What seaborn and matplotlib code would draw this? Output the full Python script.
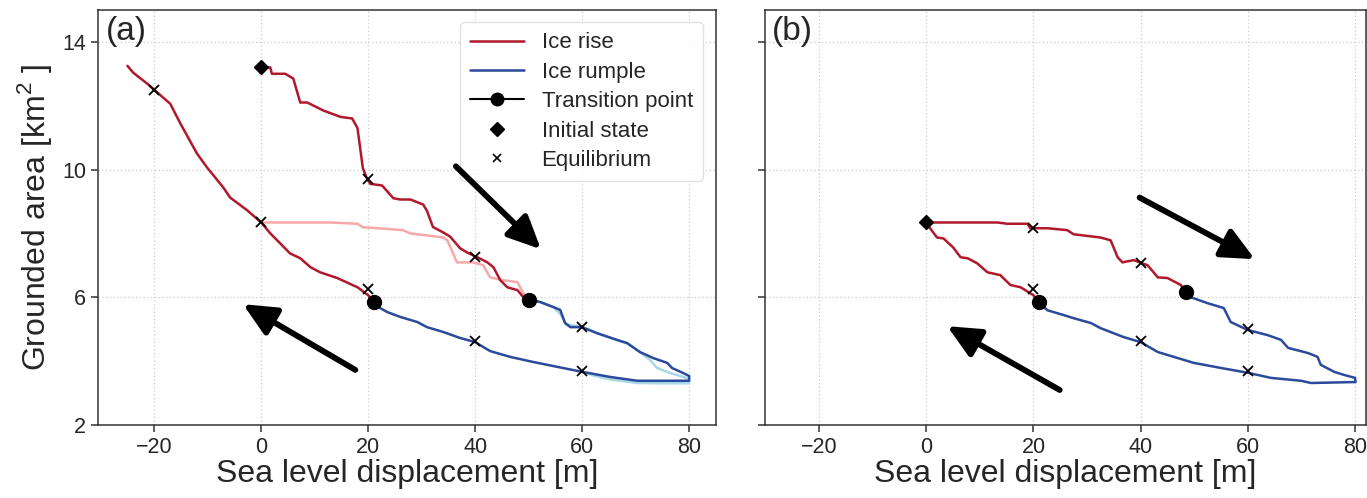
import numpy as np
import pandas as pd
import matplotlib
matplotlib.use("Agg")
import matplotlib.pyplot as plt
import seaborn as sns
from matplotlib.lines import Line2D

# ---------------- data: panel (a) ----------------
# ice rise, increasing sea level (from initial state)
a_rise_up_x = [0, 1.7, 2.0, 4.5, 6.0, 7.3, 8.6, 11.6, 14.8, 17.0, 18.0, 19.0, 19.8, 20.4, 22.6, 24.7, 26.0,
               27.9, 30.3, 31.0, 32.1, 34.0, 35.3, 37.2, 38.5, 40.4, 42.2, 43.4, 44.7, 46.0, 47.9, 49.0, 50.0]
a_rise_up_y = [13.2, 13.2, 13.0, 13.0, 12.85, 12.1, 12.1, 11.85, 11.65, 11.6, 11.3, 10.05, 9.7, 9.55, 9.5, 9.1, 9.06,
               9.06, 8.9, 8.7, 8.2, 8.03, 7.9, 7.53, 7.4, 7.25, 7.1, 6.94, 6.53, 6.31, 6.22, 6.0, 5.92]
# ice rumple loop (upper branch to 80 m, then back along lower branch)
a_rump_x = [50.0, 52.1, 54.6, 55.9, 56.8, 57.8, 60.0, 62.8, 66.5, 68.4, 70.8, 73.3, 75.9, 76.8, 78.9, 80.0,
            80.0, 75.0, 70.3, 65.2, 60.0, 56.4, 50.8, 46.5, 42.8, 40.0, 37.2, 34.0, 31.0, 29.2, 26.0, 23.6, 21.9, 21.0]
a_rump_y = [5.92, 5.85, 5.69, 5.6, 5.19, 5.06, 5.06, 4.87, 4.66, 4.56, 4.28, 4.09, 3.94, 3.78, 3.62, 3.53,
            3.38, 3.38, 3.38, 3.5, 3.66, 3.78, 3.97, 4.13, 4.31, 4.59, 4.72, 4.91, 5.06, 5.22, 5.38, 5.53, 5.69, 5.86]
# ice rise, decreasing sea level
a_rise_dn_x = [21.0, 20.0, 18.0, 14.2, 11.0, 9.2, 7.3, 5.4, 3.0, 1.7, 0.0, -2.6, -5.8, -7.1, -10.1, -12.0,
               -15.1, -17.0, -19.8, -21.3, -23.9, -25.0]
a_rise_dn_y = [5.86, 6.06, 6.31, 6.6, 6.78, 6.94, 7.22, 7.37, 7.78, 8.0, 8.34, 8.72, 9.12, 9.44, 10.06, 10.5,
               11.44, 12.06, 12.47, 12.69, 13.03, 13.25]
# faded comparison run
a_fade_rise_x = [0, 12.9, 18.0, 19.0, 21.7, 26.5, 27.8, 34.0, 34.8, 36.6, 39.6, 41.5, 42.8, 45.2, 47.9, 49.0, 50.0]
a_fade_rise_y = [8.34, 8.34, 8.3, 8.19, 8.16, 8.1, 8.0, 7.87, 7.78, 7.09, 7.09, 7.0, 6.62, 6.53, 6.47, 6.12, 5.92]
a_fade_rump_x = [50.0, 52.1, 54.6, 56.0, 57.0, 60.0, 62.8, 66.5, 68.4, 70.8, 72.7, 74.0, 76.5, 78.9, 80.0,
                 80.0, 75.0, 70.3, 65.2, 62.0, 60.0]
a_fade_rump_y = [5.92, 5.85, 5.69, 5.45, 5.15, 5.06, 4.87, 4.66, 4.56, 4.28, 4.03, 3.78, 3.62, 3.5, 3.44,
                 3.3, 3.3, 3.31, 3.42, 3.55, 3.66]
a_trans_x = [50.0, 21.0]
a_trans_y = [5.92, 5.86]
a_init_x = [0]
a_init_y = [13.2]
a_eq_x = [-20, 0, 20, 20, 40, 40, 60, 60]
a_eq_y = [12.5, 8.35, 9.7, 6.27, 7.25, 4.62, 5.06, 3.68]

# ---------------- data: panel (b) ----------------
b_rise_up_x = [0, 13.3, 15.1, 18.9, 19.4, 22.6, 26.3, 27.5, 32.5, 34.4, 35.7, 36.6, 38.7, 41.3, 43.2, 45.0, 47.5, 48.4]
b_rise_up_y = [8.34, 8.34, 8.3, 8.3, 8.16, 8.16, 8.1, 7.97, 7.87, 7.78, 7.25, 7.09, 7.16, 7.0, 6.62, 6.6, 6.38, 6.16]
b_rump_x = [48.4, 49.3, 52.5, 55.5, 56.8, 60.0, 63.7, 66.2, 67.5, 71.2, 73.0, 73.6, 76.1, 78.0, 80.0,
            80.1, 71.8, 69.9, 64.3, 60.0, 55.0, 49.9, 43.2, 40.0, 36.8, 32.5, 30.7, 27.5, 25.6, 22.6, 20.9]
b_rump_y = [6.16, 6.0, 5.81, 5.66, 5.22, 4.97, 4.81, 4.66, 4.41, 4.25, 4.13, 3.88, 3.66, 3.56, 3.47,
            3.34, 3.31, 3.38, 3.47, 3.63, 3.78, 3.94, 4.28, 4.59, 4.75, 5.03, 5.19, 5.34, 5.44, 5.59, 5.86]
b_rise_dn_x = [20.9, 20.0, 17.6, 15.7, 13.8, 11.4, 9.5, 7.7, 6.4, 5.0, 3.2, 2.0, 0.7, 0.0]
b_rise_dn_y = [5.86, 6.06, 6.31, 6.38, 6.69, 6.78, 7.06, 7.22, 7.25, 7.56, 7.84, 7.87, 8.16, 8.34]
b_trans_x = [48.4, 21.0]
b_trans_y = [6.16, 5.86]
b_init_x = [0]
b_init_y = [8.34]
b_eq_x = [20, 20, 40, 40, 60, 60]
b_eq_y = [8.16, 6.27, 7.06, 4.62, 5.0, 3.68]

# arrows: (tail_x, tail_y, tip_x, tip_y)
a_arrows = [(36.4, 10.1, 52.3, 7.5), (17.6, 3.72, -3.4, 5.78)]
b_arrows = [(39.8, 9.12, 61.3, 7.19), (24.9, 3.09, 3.9, 5.09)]

x_ticks = [-20, 0, 20, 40, 60, 80]
y_ticks = [2, 6, 10, 14]
legend_labels = ["Ice rise", "Ice rumple", "Transition point", "Initial state", "Equilibrium"]

# ---------------- style ----------------
sns.set_theme(style="ticks")
plt.rcParams['font.family'] = ['Liberation Sans', 'DejaVu Sans']
plt.rcParams['mathtext.fontset'] = 'custom'
plt.rcParams['mathtext.rm'] = 'Liberation Sans'

RED = "#b2182b"
BLUE = "#2b4a9b"
PINK = "#f7a8a8"
LBLUE = "#a8d8e8"
TXT = "#262626"

fig = plt.figure(figsize=(13.67, 4.98), dpi=100)
ax_a = fig.add_axes([0.0717, 0.147, 0.4520, 0.833])
ax_b = fig.add_axes([0.5596, 0.147, 0.4395, 0.833], sharey=ax_a)


def line(ax, x, y, color, lw=1.8, z=2):
    sns.lineplot(x=x, y=y, ax=ax, sort=False, estimator=None, color=color, lw=lw, zorder=z)


def style_axes(ax, xlim, label, show_ylabels):
    ax.set_xlim(*xlim)
    ax.set_ylim(2, 15)
    ax.set_xticks(x_ticks)
    ax.set_yticks(y_ticks)
    ax.grid(True, ls=(0, (1, 2)), color="#cccccc", lw=0.9)
    ax.set_axisbelow(True)
    for s in ax.spines.values():
        s.set_color("#333333")
        s.set_linewidth(1.1)
    ax.tick_params(labelsize=15.5, colors="#333333", labelcolor=TXT, length=5, width=1.1)
    ax.set_xlabel("Sea level displacement [m]", fontsize=23, color=TXT, labelpad=1)
    if show_ylabels:
        ax.set_ylabel(r"Grounded area [km$^{2}$ ]", fontsize=23, color=TXT, labelpad=6)
    else:
        ax.set_ylabel("")
        plt.setp(ax.get_yticklabels(), visible=False)
    ax.text(0.012, 0.985, label, transform=ax.transAxes, fontsize=24, va="top", ha="left", color=TXT)


def arrows(ax, arr):
    for tx, ty, hx, hy in arr:
        ax.annotate("", xy=(hx, hy), xytext=(tx, ty),
                    arrowprops=dict(arrowstyle="-|>,head_length=0.9,head_width=0.42", lw=4.2,
                                    color="black", mutation_scale=22, shrinkA=0, shrinkB=0), zorder=7)


# panel a
line(ax_a, a_fade_rise_x, a_fade_rise_y, PINK, z=1)
line(ax_a, a_fade_rump_x, a_fade_rump_y, LBLUE, z=1)
line(ax_a, a_rise_up_x, a_rise_up_y, RED)
line(ax_a, a_rump_x, a_rump_y, BLUE)
line(ax_a, a_rise_dn_x, a_rise_dn_y, RED)
ax_a.plot(a_trans_x, a_trans_y, "o", color="black", ms=10, zorder=4, ls="none")
ax_a.plot(a_init_x, a_init_y, "D", color="black", ms=7, zorder=4, ls="none")
ax_a.plot(a_eq_x, a_eq_y, "x", color="black", ms=7, mew=1.3, zorder=4, ls="none")
arrows(ax_a, a_arrows)
style_axes(ax_a, (-30.5, 85), "(a)", True)

# panel b
line(ax_b, b_rise_up_x, b_rise_up_y, RED)
line(ax_b, b_rump_x, b_rump_y, BLUE)
line(ax_b, b_rise_dn_x, b_rise_dn_y, RED)
ax_b.plot(b_trans_x, b_trans_y, "o", color="black", ms=10, zorder=4, ls="none")
ax_b.plot(b_init_x, b_init_y, "D", color="black", ms=7, zorder=4, ls="none")
ax_b.plot(b_eq_x, b_eq_y, "x", color="black", ms=7, mew=1.3, zorder=4, ls="none")
arrows(ax_b, b_arrows)
style_axes(ax_b, (-30.1, 82), "(b)", False)

# legend
handles = [
    Line2D([], [], color=RED, lw=1.8),
    Line2D([], [], color=BLUE, lw=1.8),
    Line2D([], [], color="black", lw=1.5, marker="o", ms=9),
    Line2D([], [], color="black", ls="none", marker="D", ms=7),
    Line2D([], [], color="black", ls="none", marker="x", ms=6, mew=1.2),
]
leg = ax_a.legend(handles, legend_labels, loc="upper right", fontsize=16, frameon=True, framealpha=0.9,
                  edgecolor="#dddddd", handlelength=2.4, labelspacing=0.38, borderpad=0.45,
                  handletextpad=0.8, bbox_to_anchor=(0.997, 0.997))
leg.set_zorder(6)
for t in leg.get_texts():
    t.set_color(TXT)

fig.savefig("out.png", dpi=100)
